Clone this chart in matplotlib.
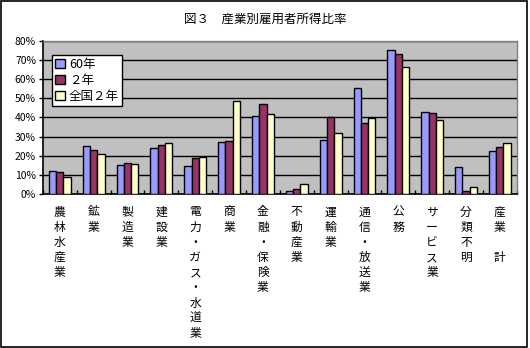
import numpy as np
import matplotlib
matplotlib.use("Agg")
import matplotlib.pyplot as plt
from matplotlib.patches import Rectangle
from matplotlib.ticker import FuncFormatter

plt.rcParams['font.family'] = ['Noto Sans CJK JP', 'DejaVu Sans']

categories = ["農林水産業", "鉱業", "製造業", "建設業", "電力・ガス・水道業", "商業",
              "金融・保険業", "不動産業", "運輸業", "通信・放送業", "公務", "サービス業",
              "分類不明", "産業　計"]
series_names = ["60年", "２年", "全国２年"]
s60 = [12.2, 25.0, 15.1, 24.2, 14.6, 27.1, 40.7, 1.6, 28.2, 55.3, 75.1, 42.8, 14.3, 22.4]
s2 = [11.5, 23.0, 16.2, 25.6, 19.0, 27.7, 47.0, 2.6, 40.2, 37.0, 73.0, 42.3, 1.6, 24.7]
national2 = [9.0, 20.9, 15.7, 26.6, 19.5, 48.7, 41.7, 5.2, 31.8, 39.5, 66.3, 38.8, 3.8, 26.6]
colors = ["#9999FF", "#993366", "#FFFFCC"]

fig = plt.figure(figsize=(5.3, 3.48), dpi=100)
ax = fig.add_axes([0.081, 0.4425, 0.894, 0.44])
ax.set_facecolor("#C0C0C0")

x = np.arange(len(categories))
w = 0.215
for i, (vals, name) in enumerate(zip([s60, s2, national2], series_names)):
    ax.bar(x + (i - 1) * w, vals, w, color=colors[i], edgecolor="black",
           linewidth=1, label=name, zorder=3)

ax.set_xlim(-0.5, len(categories) - 0.5)
ax.set_ylim(0, 80)
ax.set_yticks(range(0, 81, 10))
ax.yaxis.set_major_formatter(FuncFormatter(lambda v, p: f"{int(v)}%"))
ax.yaxis.grid(True, color="black", linewidth=1, zorder=1)
ax.set_axisbelow(True)
ax.tick_params(axis="y", labelsize=7.5, length=3, width=1, pad=2)
ax.set_xticks(np.arange(len(categories) + 1) - 0.5)
ax.set_xticklabels([])
ax.tick_params(axis="x", direction="in", length=3, width=1)
for s in ["left", "bottom"]:
    ax.spines[s].set_color("black")
    ax.spines[s].set_linewidth(1.2)
for s in ["top", "right"]:
    ax.spines[s].set_color("#808080")
    ax.spines[s].set_linewidth(1)

for xi, lab in zip(x, categories):
    ax.text(xi, -6, "\n".join(lab), ha="center", va="top", fontsize=8.5,
            linespacing=1.22, clip_on=False)

leg = ax.legend(loc="upper left", bbox_to_anchor=(0.019, 0.91), fontsize=9,
                frameon=True, fancybox=False, edgecolor="black", framealpha=1,
                handlelength=0.8, handleheight=0.8, handletextpad=0.3,
                borderpad=0.25, labelspacing=0.25, borderaxespad=0)
leg.get_frame().set_linewidth(1)

fig.text(0.5, 0.945, "図３　産業別雇用者所得比率", ha="center", va="center", fontsize=9)
fig.patches.append(Rectangle((0.002, 0.003), 0.993, 0.994, transform=fig.transFigure,
                             fill=False, edgecolor="black", linewidth=1.2))

fig.savefig("out.png", dpi=100)
